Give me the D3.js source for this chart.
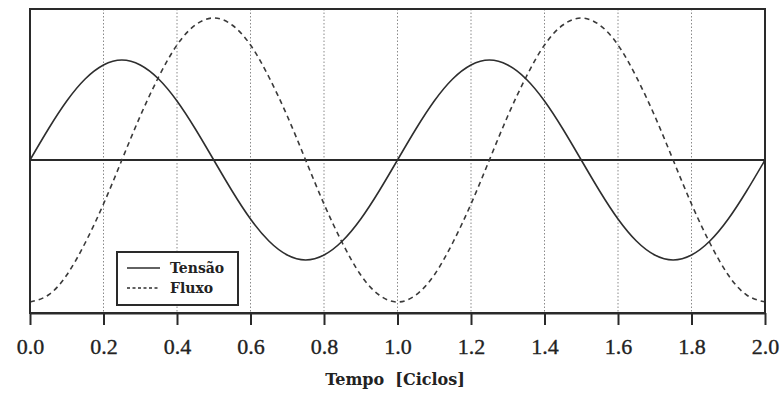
<!DOCTYPE html>
<html>
<head>
<meta charset="utf-8">
<script src="https://cdn.jsdelivr.net/npm/d3@7"></script>
<style>
  html, body { margin: 0; padding: 0; background: #fff; }
  svg { display: block; }
</style>
</head>
<body>
<svg id="chart" width="782" height="394"></svg>
<script>
// Time axis in cycles, sampled every 0.05 cycle
const tempo = [
  0.00, 0.05, 0.10, 0.15, 0.20, 0.25, 0.30, 0.35, 0.40, 0.45,
  0.50, 0.55, 0.60, 0.65, 0.70, 0.75, 0.80, 0.85, 0.90, 0.95,
  1.00, 1.05, 1.10, 1.15, 1.20, 1.25, 1.30, 1.35, 1.40, 1.45,
  1.50, 1.55, 1.60, 1.65, 1.70, 1.75, 1.80, 1.85, 1.90, 1.95, 2.00
];

// Voltage (solid)
const tensao = [
  0.00, 0.31, 0.59, 0.81, 0.95, 1.00, 0.95, 0.81, 0.59, 0.31,
  0.00, -0.31, -0.59, -0.81, -0.95, -1.00, -0.95, -0.81, -0.59, -0.31,
  0.00, 0.31, 0.59, 0.81, 0.95, 1.00, 0.95, 0.81, 0.59, 0.31,
  0.00, -0.31, -0.59, -0.81, -0.95, -1.00, -0.95, -0.81, -0.59, -0.31, 0.00
];

// Magnetic flux (dashed)
const fluxo = [
  -1.42, -1.35, -1.15, -0.83, -0.44, 0.00, 0.44, 0.83, 1.15, 1.35,
  1.42, 1.35, 1.15, 0.83, 0.44, 0.00, -0.44, -0.83, -1.15, -1.35,
  -1.42, -1.35, -1.15, -0.83, -0.44, 0.00, 0.44, 0.83, 1.15, 1.35,
  1.42, 1.35, 1.15, 0.83, 0.44, 0.00, -0.44, -0.83, -1.15, -1.35, -1.42
];

const tickValues = [0.0, 0.2, 0.4, 0.6, 0.8, 1.0, 1.2, 1.4, 1.6, 1.8, 2.0];
const xTitle = "Tempo\u00a0\u00a0[Ciclos]";
const legendItems = ["Tens\u00e3o", "Fluxo"];

const svg = d3.select("#chart");
const plotLeft = 30, plotRight = 765, plotTop = 9, plotBottom = 313;

const x = d3.scaleLinear().domain([0, 2]).range([plotLeft, plotRight]);
const y = d3.scaleLinear().domain([-1.53, 1.51]).range([plotBottom, plotTop]);

const ink = "#2a2a2a";
const tickFont = "'Liberation Serif', 'DejaVu Serif', serif";
const labelFont = "'DejaVu Serif', 'Liberation Serif', serif";

// dotted vertical grid
svg.append("g")
  .selectAll("line")
  .data(tickValues.slice(1, -1))
  .join("line")
  .attr("x1", d => x(d)).attr("x2", d => x(d))
  .attr("y1", plotTop).attr("y2", plotBottom)
  .attr("stroke", "#8a8a8a")
  .attr("stroke-width", 1)
  .attr("stroke-dasharray", "1.5,2");

// zero line
svg.append("line")
  .attr("x1", plotLeft).attr("x2", plotRight)
  .attr("y1", y(0)).attr("y2", y(0))
  .attr("stroke", ink).attr("stroke-width", 2);

const line = (vals) => d3.line()
  .x((d, i) => x(tempo[i]))
  .y(d => y(d))
  .curve(d3.curveNatural)(vals);

svg.append("path")
  .attr("d", line(fluxo))
  .attr("fill", "none")
  .attr("stroke", "#3a3a3a")
  .attr("stroke-width", 1.6)
  .attr("stroke-dasharray", "5,4");

svg.append("path")
  .attr("d", line(tensao))
  .attr("fill", "none")
  .attr("stroke", "#2e2e2e")
  .attr("stroke-width", 1.6);

// frame
svg.append("rect")
  .attr("x", plotLeft).attr("y", plotTop)
  .attr("width", plotRight - plotLeft).attr("height", plotBottom - plotTop)
  .attr("fill", "none")
  .attr("stroke", ink).attr("stroke-width", 2);

// bottom axis
const xAxis = d3.axisBottom(x)
  .tickValues(tickValues)
  .tickFormat(d3.format(".1f"))
  .tickSize(12)
  .tickSizeOuter(0);

const gx = svg.append("g")
  .attr("transform", `translate(0,${plotBottom})`)
  .call(xAxis);
gx.select(".domain").attr("stroke", ink).attr("stroke-width", 2);
gx.selectAll(".tick line").attr("stroke", ink).attr("stroke-width", 2);
gx.selectAll(".tick text")
  .attr("y", 41)
  .attr("dy", null)
  .attr("fill", "#222")
  .attr("stroke", "#222")
  .attr("stroke-width", 0.35)
  .style("font-family", tickFont)
  .style("font-size", "22px");

// axis title
svg.append("text")
  .attr("x", 395)
  .attr("y", 385)
  .attr("text-anchor", "middle")
  .attr("fill", "#222")
  .style("font-family", labelFont)
  .style("font-weight", "bold")
  .style("font-size", "16px")
  .text(xTitle);

// legend
const lg = svg.append("g");
lg.append("rect")
  .attr("x", 117).attr("y", 252)
  .attr("width", 121).attr("height", 53)
  .attr("fill", "#fff")
  .attr("stroke", ink).attr("stroke-width", 2);

const dashes = [null, "3,2.5"];
legendItems.forEach((name, i) => {
  const ly = 268 + i * 20;
  lg.append("line")
    .attr("x1", 127).attr("x2", 160)
    .attr("y1", ly).attr("y2", ly)
    .attr("stroke", "#2e2e2e")
    .attr("stroke-width", 1.6)
    .attr("stroke-dasharray", dashes[i]);
  lg.append("text")
    .attr("x", 170).attr("y", ly + 5)
    .attr("fill", "#222")
    .style("font-family", labelFont)
    .style("font-weight", "bold")
    .style("font-size", "14px")
    .text(name);
});
</script>
</body>
</html>
